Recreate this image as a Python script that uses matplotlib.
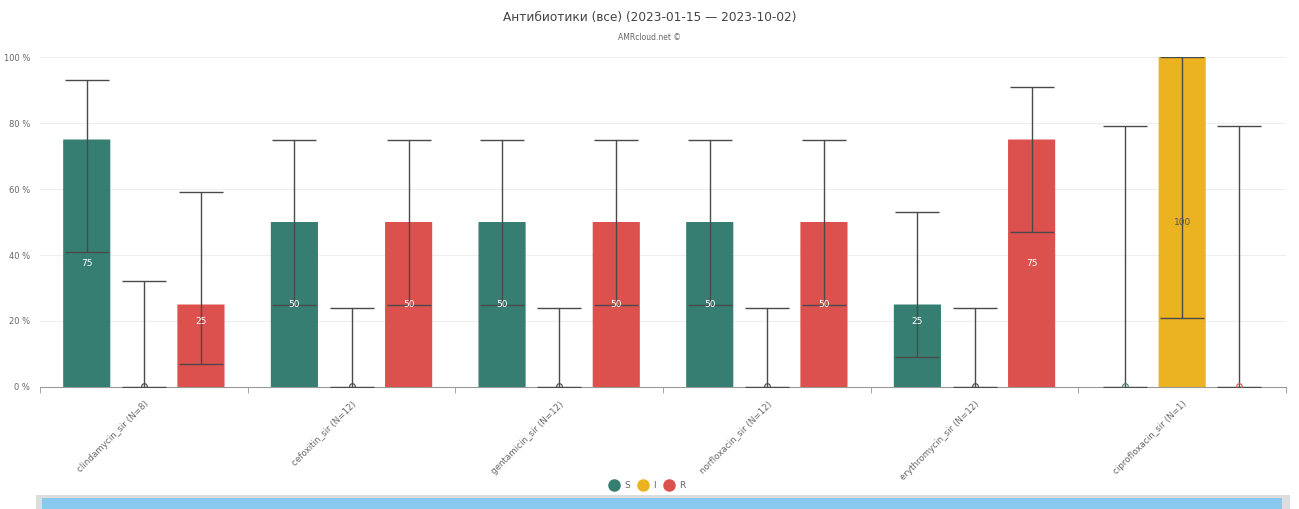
import numpy as np
import matplotlib.pyplot as plt
from matplotlib.patches import Rectangle, FancyBboxPatch
from matplotlib.lines import Line2D

# Данные
categories = ['clindamycin_sir (N=8)', 'cefoxitin_sir (N=12)', 'gentamicin_sir (N=12)',
              'norfloxacin_sir (N=12)', 'erythromycin_sir (N=12)', 'ciprofloxacin_sir (N=1)']
series = ['S', 'I', 'R']
s_vals = [75, 50, 50, 50, 25, 0]
i_vals = [0, 0, 0, 0, 0, 100]
r_vals = [25, 50, 50, 50, 75, 0]
s_low = [41, 25, 25, 25, 9, 0]
s_high = [93, 75, 75, 75, 53, 79]
i_low = [0, 0, 0, 0, 0, 21]
i_high = [32, 24, 24, 24, 24, 100]
r_low = [7, 25, 25, 25, 47, 0]
r_high = [59, 75, 75, 75, 91, 79]
yticks = [0, 20, 40, 60, 80, 100]

colors = {'S': '#367e72', 'I': '#ecb320', 'R': '#dc514d'}

fig = plt.figure(figsize=(12.99, 5.09), dpi=100)
ax = fig.add_axes([40 / 1299, 1 - 387 / 509, 1246 / 1299, 330 / 509])

x = np.arange(len(categories))
offset = 0.275
width = 0.227
vals = {'S': (s_vals, s_low, s_high), 'I': (i_vals, i_low, i_high), 'R': (r_vals, r_low, r_high)}

for k, name in enumerate(series):
    v, lo, hi = vals[name]
    xs = x + (k - 1) * offset
    for xi, vi in zip(xs, v):
        if vi > 0:
            p = FancyBboxPatch((xi - width / 2, 0), width, vi,
                               boxstyle='round,pad=0,rounding_size=0.012',
                               mutation_aspect=1 / 0.0039 * 0.01,
                               fc=colors[name], ec='none', zorder=2)
            ax.add_patch(p)
    yerr = [np.array(v) - np.array(lo), np.array(hi) - np.array(v)]
    ax.errorbar(xs, v, yerr=yerr, fmt='none', ecolor='#4a4a4a', elinewidth=1,
                capsize=16, capthick=1, zorder=3)
    for xi, vi in zip(xs, v):
        if vi > 0:
            ly = max(vi / 2, 20)
            tc = '#555555' if name == 'I' else 'white'
            ax.text(xi, ly, str(vi), ha='center', va='center', fontsize=6.5,
                    color=tc, zorder=4)
        else:
            tc = '#444444' if name == 'I' else colors[name]
            ax.plot(xi, 0.4, 'o', ms=4, mfc='none', mec=tc, mew=0.8, zorder=4)

ax.set_xlim(-0.5, len(categories) - 0.5)
ax.set_ylim(0, 100)
ax.set_yticks(yticks)
ax.set_yticklabels([f'{t} %' for t in yticks], fontsize=6, color='#666666')
ax.set_xticks(x)
ax.set_xticklabels(categories, rotation=45, ha='right', rotation_mode='anchor',
                   fontsize=6.3, color='#666666')
ax.set_xticks(np.arange(len(categories) + 1) - 0.5, minor=True)
ax.tick_params(axis='x', which='major', length=0, pad=9)
ax.tick_params(axis='x', which='minor', length=4, color='#999999')
ax.tick_params(axis='y', length=0, pad=7)
ax.grid(axis='y', color='#eeeeee', linewidth=0.8)
ax.set_axisbelow(True)
for s in ['top', 'right', 'left']:
    ax.spines[s].set_visible(False)
ax.spines['bottom'].set_color('#999999')

fig.text(0.5, 1 - 18 / 509, 'Антибиотики (все) (2023-01-15 — 2023-10-02)',
         ha='center', va='center', fontsize=8.7, color='#444444')
fig.text(0.5, 1 - 38 / 509, 'AMRcloud.net ©', ha='center', va='center',
         fontsize=5.5, color='#666666')

# легенда
lx = [614, 643, 669]
for name, px in zip(series, lx):
    fig.add_artist(Line2D([px / 1299], [1 - 485 / 509], marker='o', ms=8, ls='none',
                          color=colors[name], transform=fig.transFigure))
    fig.text((px + 10) / 1299, 1 - 485 / 509, name, ha='left', va='center',
             fontsize=6.5, color='#666666')

# полоса прокрутки
fig.patches.append(Rectangle((36 / 1299, 0), 1254 / 1299, 14 / 509, transform=fig.transFigure,
                             fc='#dddddd', ec='none', figure=fig))
fig.patches.append(Rectangle((42 / 1299, 0), 1240 / 1299, 11 / 509, transform=fig.transFigure,
                             fc='#88c9ef', ec='none', figure=fig))

fig.savefig('out.png', dpi=100)
